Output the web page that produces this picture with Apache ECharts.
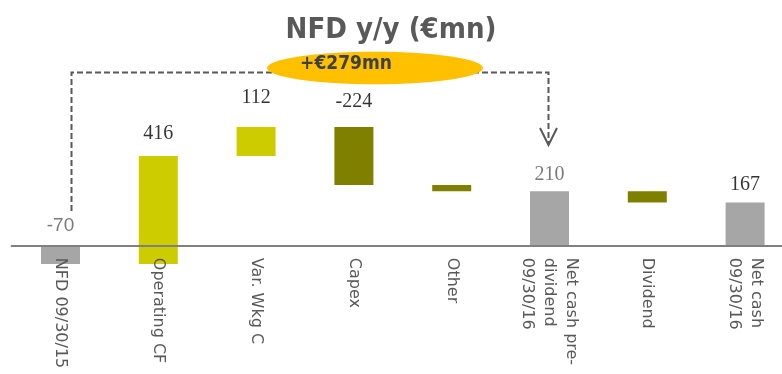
<!DOCTYPE html>
<html>
<head>
<meta charset="utf-8">
<style>
  html, body { margin: 0; padding: 0; background: #ffffff; }
  #chart { width: 782px; height: 374px; }
</style>
<script src="https://cdn.jsdelivr.net/npm/echarts@6/dist/echarts.min.js"></script>
</head>
<body>
<div id="chart"></div>
<script>
// Net financial debt bridge, €mn
const categories = [
  'NFD 09/30/15',
  'Operating CF',
  'Var. Wkg C',
  'Capex',
  'Other',
  'Net cash pre-\ndividend\n09/30/16',
  'Dividend',
  'Net cash\n09/30/16'
];
const changes = [-70, 416, 112, -224, -24, 210, -43, 167];
const isTotal = [true, false, false, false, false, true, false, true];
const showValue = [true, true, true, true, false, true, false, true];
const deltaLabel = '+€279mn';

const COLOR_TOTAL = '#a6a6a6';
const COLOR_UP = '#cccc00';
const COLOR_DOWN = '#808000';

// running levels for the floating bars
const starts = [];
const ends = [];
let level = 0;
changes.forEach(function (v, i) {
  if (isTotal[i]) { starts.push(0); ends.push(v); level = v; }
  else { starts.push(level); ends.push(level + v); level += v; }
});

function barColor(i) {
  if (isTotal[i]) return COLOR_TOTAL;
  return changes[i] >= 0 ? COLOR_UP : COLOR_DOWN;
}

const serifBlack = { fontFamily: 'Liberation Serif', fontSize: 20, color: '#000000' };
const labelStyles = [
  { fontFamily: 'Liberation Sans', fontSize: 19, color: '#595959', distance: 11 },
  Object.assign({ distance: 12 }, serifBlack),
  Object.assign({ distance: 19 }, serifBlack),
  Object.assign({ distance: 15 }, serifBlack),
  null,
  { fontFamily: 'Liberation Serif', fontSize: 20, color: '#595959', distance: 7 },
  null,
  Object.assign({ distance: 8 }, serifBlack)
];

const chart = echarts.init(document.getElementById('chart'), null, { renderer: 'canvas' });

const option = {
  animation: false,
  backgroundColor: '#ffffff',
  title: {
    text: 'NFD y/y (€mn)',
    left: 'center',
    top: 11,
    textStyle: {
      fontFamily: 'DejaVu Sans Condensed, DejaVu Sans',
      fontWeight: 'bold',
      fontSize: 29,
      color: '#595959'
    }
  },
  grid: {
    left: 11.6, right: -12, top: 116, bottom: 102.2,
    containLabel: false,
    outerBoundsMode: 'none'
  },
  xAxis: {
    type: 'category',
    data: categories,
    z: 5,
    axisLine: { show: true, onZero: true, lineStyle: { color: '#808080', width: 2 } },
    axisTick: { show: false },
    splitLine: { show: false },
    axisLabel: {
      interval: 0,
      rotate: -90,
      margin: -14,
      fontFamily: 'DejaVu Sans',
      fontSize: 16,
      lineHeight: 22,
      color: '#595959'
    }
  },
  yAxis: {
    type: 'value',
    min: -100,
    max: 500,
    show: false,
    splitLine: { show: false }
  },
  series: [
    {
      name: 'base',
      type: 'bar',
      stack: 'bridge',
      stackStrategy: 'all',
      barWidth: 39,
      itemStyle: { color: 'transparent' },
      emphasis: { disabled: true },
      data: starts
    },
    {
      name: 'change',
      type: 'bar',
      stack: 'bridge',
      stackStrategy: 'all',
      barWidth: 39,
      emphasis: { disabled: true },
      data: changes.map(function (v, i) {
        return { value: ends[i] - starts[i], itemStyle: { color: barColor(i) } };
      })
    },
    {
      name: 'values',
      type: 'scatter',
      symbolSize: 0,
      silent: true,
      z: 5,
      data: changes.map(function (v, i) {
        if (!showValue[i]) return null;
        const s = labelStyles[i];
        return {
          value: [i, Math.max(starts[i], ends[i])],
          label: {
            show: true,
            position: 'top',
            distance: s.distance,
            formatter: String(v),
            fontFamily: s.fontFamily,
            fontSize: s.fontSize,
            color: s.color
          }
        };
      }).filter(function (d) { return d !== null; })
    }
  ]
};

chart.setOption(option);

// dashed bracket from the opening NFD to the pre-dividend net cash
const xStart = chart.convertToPixel({ xAxisIndex: 0 }, 0) + 11;
const xEnd = chart.convertToPixel({ xAxisIndex: 0 }, 5) - 1;
const yLine = 72.5;
const dash = { stroke: '#595959', lineWidth: 2, lineDash: [6, 3] };

chart.setOption({
  graphic: [
    { type: 'polyline', z: 10, shape: { points: [[xStart, 211], [xStart, yLine], [xEnd, yLine], [xEnd, 143]] }, style: Object.assign({ fill: null }, dash) },
    { type: 'polyline', z: 10, shape: { points: [[xEnd - 8.5, 128], [xEnd, 145], [xEnd + 8.5, 128]] }, style: { fill: null, stroke: '#595959', lineWidth: 2 } },
    { type: 'ellipse', z: 11, shape: { cx: 375, cy: 68, rx: 108, ry: 16.3 }, style: { fill: '#ffc000' } },
    {
      type: 'text', z: 12, x: 346, y: 64,
      style: {
        text: deltaLabel,
        align: 'center',
        verticalAlign: 'middle',
        fontFamily: 'DejaVu Sans Condensed, DejaVu Sans',
        fontWeight: 'bold',
        fontSize: 19,
        fill: '#404040'
      }
    }
  ]
});
</script>
</body>
</html>
